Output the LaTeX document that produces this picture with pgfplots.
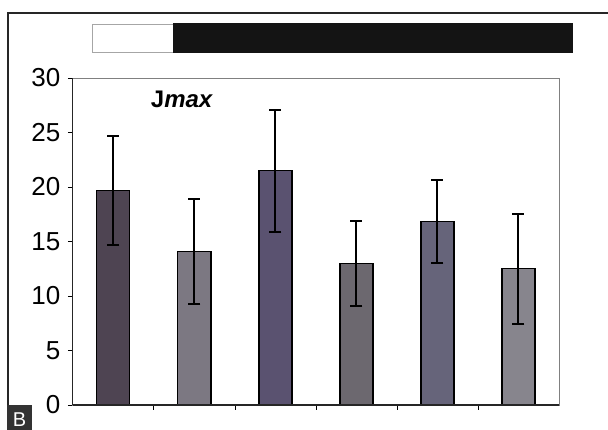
\documentclass[border=0pt]{standalone}
\usepackage{pgfplots}
\pgfplotsset{compat=1.18}
\usepackage{fontspec}
\setmainfont{Liberation Sans}
\definecolor{c1}{HTML}{4E4452}
\definecolor{c2}{HTML}{7C7882}
\definecolor{c3}{HTML}{5A5270}
\definecolor{c4}{HTML}{6C686F}
\definecolor{c5}{HTML}{66647A}
\definecolor{c6}{HTML}{87858D}
\pgfplotsset{mybar/.style={ybar, bar width=33pt, draw=black, line width=1.2pt, fill=#1,
  /pgfplots/error bars/y dir=both, /pgfplots/error bars/y explicit,
  /pgfplots/error bars/error bar style={line width=2pt, black},
  /pgfplots/error bars/error mark options={line width=2pt, mark size=6pt, rotate=90, black}}}
\begin{document}
\begin{tikzpicture}[x=1pt,y=1pt]
\path[use as bounding box] (0,0) rectangle (608,430);
\draw[line width=1.2pt,black!85] (8,0) -- (8,417) -- (608,417);
\fill[black!80] (7,0) rectangle (32,25);
\node[white,font=\fontsize{20}{20}\selectfont,inner sep=0pt,anchor=south] at (19.5,3.5) {B};
\draw[line width=0.8pt,gray!70,fill=white] (92,378) rectangle (173,406);
\fill[black!92] (173,377) rectangle (573,407);
\begin{axis}[
  at={(90,23)}, anchor=south west,
  scale only axis, width=486, height=327,
  xmin=-0.5, xmax=5.5, ymin=0, ymax=30,
  ytick={0,5,...,30},
  xtick={0.5,1.5,2.5,3.5,4.5},
  xticklabels={},
  xtick pos=bottom, ytick pos=left,
  tick align=outside,
  major tick length=5pt,
  tick style={black, line width=0.8pt},
  axis line style={black!50, line width=0.8pt},
  ticklabel style={font=\fontsize{26}{26}\selectfont},
  yticklabel style={xshift=-4pt},
  /pgf/number format/assume math mode=true,
  clip=false,
]
\addplot[mybar=c1] coordinates {(0,19.7) +- (0,5.0)};
\addplot[mybar=c2] coordinates {(1,14.1) +- (0,4.8)};
\addplot[mybar=c3] coordinates {(2,21.5) +- (0,5.6)};
\addplot[mybar=c4] coordinates {(3,13.0) +- (0,3.9)};
\addplot[mybar=c5] coordinates {(4,16.8) +- (0,3.8)};
\addplot[mybar=c6] coordinates {(5,12.5) +- (0,5.05)};
\draw[black!85, line width=1.2pt] (axis cs:-0.5,0) -- (axis cs:-0.5,30);
\draw[black!85, line width=1.2pt] (axis cs:-0.5,0) -- (axis cs:5.5,0);
\node[anchor=west, font=\fontsize{24}{24}\selectfont\bfseries] at (axis cs:0.42,28.0) {J\textit{max}};
\end{axis}
\end{tikzpicture}
\end{document}
